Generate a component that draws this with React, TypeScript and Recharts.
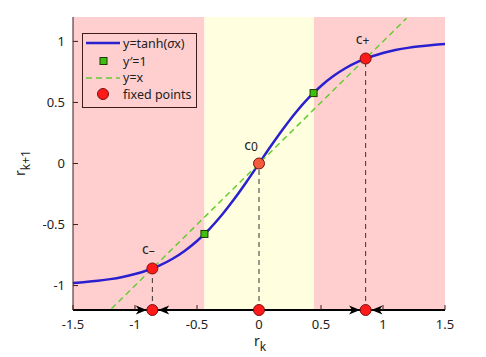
import React from 'react';
import {
  ComposedChart, Line, Scatter, XAxis, YAxis, ReferenceArea, ReferenceLine, Label,
} from 'recharts';

// tanh(sigma x) curve
const curveX = [-1.5, -1.4, -1.3, -1.2, -1.1, -1.0, -0.9, -0.8, -0.7, -0.6, -0.5, -0.4, -0.3, -0.2, -0.1, 0,
  0.1, 0.2, 0.3, 0.4, 0.5, 0.6, 0.7, 0.8, 0.9, 1.0, 1.1, 1.2, 1.3, 1.4, 1.5];
const curveY = [-0.978, -0.970, -0.960, -0.947, -0.929, -0.905, -0.874, -0.834, -0.782, -0.716, -0.635, -0.537, -0.422, -0.291, -0.149, 0,
  0.149, 0.291, 0.422, 0.537, 0.635, 0.716, 0.782, 0.834, 0.874, 0.905, 0.929, 0.947, 0.960, 0.970, 0.978];
const identityX = [-1.19, 1.19];
const slopeOneX = [-0.44, 0.44];
const slopeOneY = [-0.577, 0.577];
const fixedX = [-0.86, 0, 0.86];
const fixedLabels = ['-', '0', '+'];
const fixedColors = ['#ff1a1a', '#f25c3c', '#ff1a1a'];
const stableBoundsPink = [[-1.5, -0.44], [0.44, 1.5]];
const yellowBand = [-0.44, 0.44];
const arrowRightX = [-0.905, 0.815];
const arrowLeftX = [-0.813, 0.907];
const xTicks = [-1.5, -1, -0.5, 0, 0.5, 1, 1.5];
const yTicks = [-1, -0.5, 0, 0.5, 1];
const Y_MIN = -1.2;
const Y_MAX = 1.2;

const curveData = curveX.map((x, i) => ({ x, y: curveY[i] }));
const identityData = identityX.map((x) => ({ x, y: x }));
const slopeData = slopeOneX.map((x, i) => ({ x, y: slopeOneY[i] }));
const fixedData = fixedX.map((x, i) => ({ x, y: x, label: fixedLabels[i], fill: fixedColors[i] }));
const bottomData = fixedX.map((x) => ({ x, y: Y_MIN, fill: '#ff1a1a' }));
const arrowR = arrowRightX.map((x) => ({ x, y: Y_MIN, dir: 1 }));
const arrowL = arrowLeftX.map((x) => ({ x, y: Y_MIN, dir: -1 }));

const FONT = '"Noto Sans", "Open Sans", sans-serif';
const FRAME = '#3d1c1c';

const labelOffsets: Record<string, [number, number]> = { '-': [-4, -14], '0': [-8, -14], '+': [-3, -15] };

const FixedShape = (props: any) => {
  const { cx, cy, payload } = props;
  const off = labelOffsets[payload.label] || [0, -14];
  return (
    <g>
      <circle cx={cx} cy={cy} r={5.5} fill={payload.fill} stroke="#7a1010" strokeWidth={1} />
      <text x={cx + off[0]} y={cy + off[1]} textAnchor="middle" fontFamily={FONT} fontSize={14} fill="#222">
        c<tspan fontSize={12} dy={1}>{payload.label === '-' ? '\u2013' : payload.label}</tspan>
      </text>
    </g>
  );
};

const BottomShape = (props: any) => {
  const { cx, cy, payload } = props;
  return <circle cx={cx} cy={cy} r={5.5} fill={payload.fill} stroke="#7a1010" strokeWidth={1} />;
};

const SquareShape = (props: any) => {
  const { cx, cy } = props;
  return <rect x={cx - 3.5} y={cy - 3.5} width={7} height={7} fill="#3fbf10" stroke="#1d3a08" strokeWidth={1} />;
};

const ArrowShape = (props: any) => {
  const { cx, cy, payload } = props;
  const d = payload.dir;
  const L = 11;
  const H = 4.5;
  return (
    <path d={`M${cx},${cy} L${cx - d * L},${cy - H} L${cx - d * L + d * 3},${cy} L${cx - d * L},${cy + H} Z`} fill="#000" />
  );
};

const YLabel = () => (
  <text x={0} y={0} transform="translate(25,163) rotate(-90)" textAnchor="middle" fontFamily={FONT} fontSize={14} fill="#222">
    r<tspan fontSize={12} dy={5}>k+1</tspan>
  </text>
);

const XLabel = () => (
  <text x={254} y={346} textAnchor="start" fontFamily={FONT} fontSize={14} fill="#222">
    r<tspan fontSize={12} dy={5}>k</tspan>
  </text>
);

const Legend = () => (
  <svg width={486} height={357} style={{ position: 'absolute', left: 0, top: 0, pointerEvents: 'none' }}>
    <rect x={82.5} y={33.5} width={114} height={74} fill="none" stroke={FRAME} strokeWidth={1} />
    <line x1={86} y1={43} x2={120} y2={43} stroke="#2a20d0" strokeWidth={2.5} />
    <rect x={100} y={57.5} width={7} height={7} fill="#3fbf10" stroke="#1d3a08" strokeWidth={1} />
    <line x1={86} y1={78} x2={120} y2={78} stroke="#66cc33" strokeWidth={1.5} strokeDasharray="6 4" />
    <circle cx={103} cy={94} r={5.5} fill="#ff1a1a" stroke="#7a1010" strokeWidth={1} />
    <g fontFamily={FONT} fontSize={12.5} fill="#222">
      <text x={123} y={47.5}>y=tanh(<tspan fontStyle="italic">σ</tspan>x)</text>
      <text x={123} y={65.5}>y′=1</text>
      <text x={123} y={82}>y=x</text>
      <text x={123} y={98.5}>fixed points</text>
    </g>
  </svg>
);

export default function App() {
  return (
    <div style={{ position: 'absolute', left: 0, top: 0, width: 486, height: 357, background: '#fff' }}>
      <ComposedChart width={486} height={357} margin={{ top: 17, right: 41, left: 0, bottom: 0 }}>
        <XAxis
          xAxisId="b" dataKey="x" type="number" domain={[-1.5, 1.5]} ticks={xTicks}
          height={47} tickSize={-5} tickMargin={15} axisLine={{ stroke: '#000', strokeWidth: 2 }}
          tickLine={{ stroke: FRAME }} tick={{ fontFamily: FONT, fontSize: 13, fill: '#222' }}
        >
          <Label content={<XLabel />} />
        </XAxis>
        <XAxis
          xAxisId="t" orientation="top" dataKey="x" type="number" domain={[-1.5, 1.5]} ticks={xTicks}
          height={0} tickSize={-5} tick={false} axisLine={{ stroke: FRAME }} tickLine={{ stroke: FRAME }}
        />
        <YAxis
          yAxisId="l" dataKey="y" type="number" domain={[Y_MIN, Y_MAX]} ticks={yTicks}
          width={73} tickSize={-5} tickMargin={13} axisLine={{ stroke: FRAME }} tickLine={{ stroke: FRAME }}
          tick={{ fontFamily: FONT, fontSize: 13, fill: '#222' }}
        >
          <Label content={<YLabel />} />
        </YAxis>
        <YAxis
          yAxisId="r" orientation="right" dataKey="y" type="number" domain={[Y_MIN, Y_MAX]} ticks={yTicks}
          width={0} tickSize={-5} tick={false} axisLine={{ stroke: FRAME }} tickLine={{ stroke: FRAME }}
        />
        {stableBoundsPink.map((b, i) => (
          <ReferenceArea key={'p' + i} xAxisId="b" yAxisId="l" x1={b[0]} x2={b[1]} y1={Y_MIN} y2={Y_MAX} fill="#ffcfcf" fillOpacity={1} stroke="none" />
        ))}
        <ReferenceArea xAxisId="b" yAxisId="l" x1={yellowBand[0]} x2={yellowBand[1]} y1={Y_MIN} y2={Y_MAX} fill="#ffffe0" fillOpacity={1} stroke="none" />
        {fixedX.map((x, i) => (
          <ReferenceLine key={'v' + i} xAxisId="b" yAxisId="l" segment={[{ x, y: Y_MIN }, { x, y: x }]} stroke="#333" strokeWidth={1} strokeDasharray="5 4" />
        ))}
        <Line xAxisId="b" yAxisId="l" data={curveData} dataKey="y" type="monotone" stroke="#2a20d0" strokeWidth={2.5} dot={false} isAnimationActive={false} />
        <Line xAxisId="b" yAxisId="l" data={identityData} dataKey="y" type="linear" stroke="#66cc33" strokeWidth={1.5} strokeDasharray="6 4" dot={false} isAnimationActive={false} />
        <Scatter xAxisId="b" yAxisId="l" data={slopeData} dataKey="y" shape={<SquareShape />} isAnimationActive={false} />
        <Scatter xAxisId="b" yAxisId="l" data={arrowR} dataKey="y" shape={<ArrowShape />} isAnimationActive={false} />
        <Scatter xAxisId="b" yAxisId="l" data={arrowL} dataKey="y" shape={<ArrowShape />} isAnimationActive={false} />
        <Scatter xAxisId="b" yAxisId="l" data={bottomData} dataKey="y" shape={<BottomShape />} isAnimationActive={false} />
        <Scatter xAxisId="b" yAxisId="l" data={fixedData} dataKey="y" shape={<FixedShape />} isAnimationActive={false} />
      </ComposedChart>
      <Legend />
    </div>
  );
}
